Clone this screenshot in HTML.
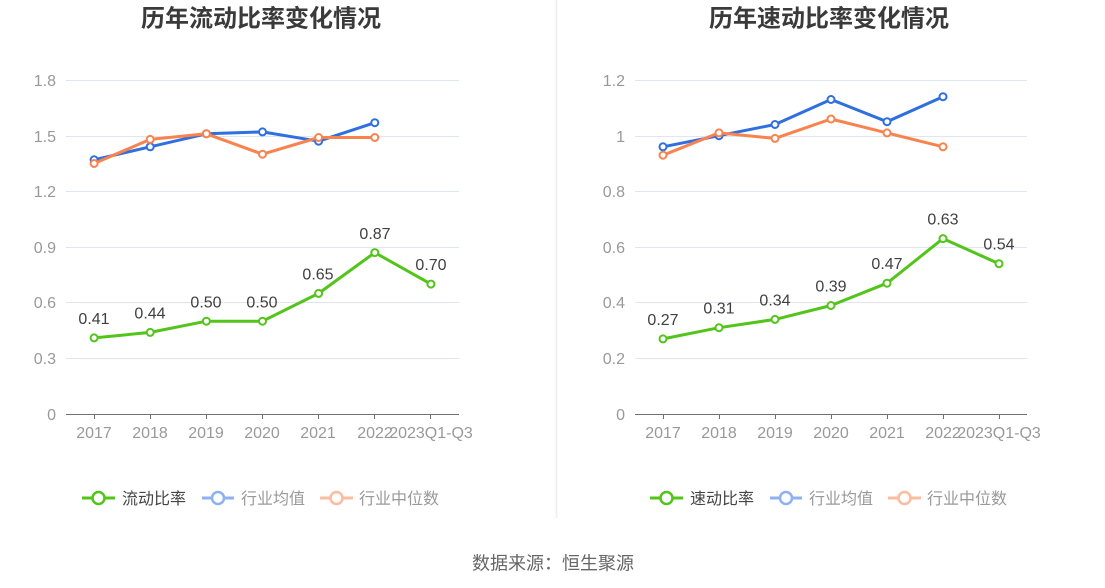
<!DOCTYPE html>
<html>
<head>
<meta charset="utf-8">
<style>
  html,body{margin:0;padding:0;background:#fff;}
  svg{display:block;}
  text{font-family:"Liberation Sans","Noto Sans CJK SC",sans-serif;}
</style>
</head>
<body>
<svg width="1105" height="588" viewBox="0 0 1105 588" xmlns="http://www.w3.org/2000/svg">
  <rect x="0" y="0" width="1105" height="588" fill="#fff"/>
  <!-- divider -->
  <line x1="556.5" y1="0" x2="556.5" y2="518" stroke="#eeeeee" stroke-width="1.5"/>

  <!-- ================= LEFT CHART ================= -->
  <text x="261" y="26.5" text-anchor="middle" font-size="24" font-weight="bold" fill="#3a3a3a">历年流动比率变化情况</text>

  <g stroke="#e0e6f1" stroke-width="1">
    <line x1="66" y1="80.5" x2="459" y2="80.5"/>
    <line x1="66" y1="136.5" x2="459" y2="136.5"/>
    <line x1="66" y1="191.5" x2="459" y2="191.5"/>
    <line x1="66" y1="247.5" x2="459" y2="247.5"/>
    <line x1="66" y1="302.5" x2="459" y2="302.5"/>
    <line x1="66" y1="358.5" x2="459" y2="358.5"/>
  </g>
  <line x1="66" y1="414.5" x2="459" y2="414.5" stroke="#6e7079" stroke-width="1"/>
  <g stroke="#6e7079" stroke-width="1">
    <line x1="94.5" y1="414" x2="94.5" y2="419"/>
    <line x1="150.5" y1="414" x2="150.5" y2="419"/>
    <line x1="206.5" y1="414" x2="206.5" y2="419"/>
    <line x1="262.5" y1="414" x2="262.5" y2="419"/>
    <line x1="318.5" y1="414" x2="318.5" y2="419"/>
    <line x1="374.5" y1="414" x2="374.5" y2="419"/>
    <line x1="430.5" y1="414" x2="430.5" y2="419"/>
  </g>
  <g font-size="16" fill="#999" text-anchor="end">
    <text x="56" y="86">1.8</text>
    <text x="56" y="142">1.5</text>
    <text x="56" y="197">1.2</text>
    <text x="56" y="253">0.9</text>
    <text x="56" y="308">0.6</text>
    <text x="56" y="364">0.3</text>
    <text x="56" y="420">0</text>
  </g>
  <g font-size="16" fill="#999" text-anchor="middle">
    <text x="94" y="438">2017</text>
    <text x="150" y="438">2018</text>
    <text x="206" y="438">2019</text>
    <text x="262" y="438">2020</text>
    <text x="318" y="438">2021</text>
    <text x="375" y="438">2022</text>
    <text x="431" y="438">2023Q1-Q3</text>
  </g>

  <!-- blue -->
  <polyline fill="none" stroke="#2f6fe0" stroke-width="3" stroke-linejoin="round"
    points="94.1,159.8 150.2,146.8 206.4,133.8 262.5,131.9 318.6,141.2 374.8,122.7"/>
  <g fill="#fff" stroke="#2f6fe0" stroke-width="2">
    <circle cx="94.1" cy="159.8" r="3.5"/><circle cx="150.2" cy="146.8" r="3.5"/>
    <circle cx="206.4" cy="133.8" r="3.5"/><circle cx="262.5" cy="131.9" r="3.5"/>
    <circle cx="318.6" cy="141.2" r="3.5"/><circle cx="374.8" cy="122.7" r="3.5"/>
  </g>
  <!-- orange -->
  <polyline fill="none" stroke="#f8834e" stroke-width="3" stroke-linejoin="round"
    points="94.1,163.5 150.2,139.4 206.4,133.8 262.5,154.2 318.6,137.5 374.8,137.5"/>
  <g fill="#fff" stroke="#f8834e" stroke-width="2">
    <circle cx="94.1" cy="163.5" r="3.5"/><circle cx="150.2" cy="139.4" r="3.5"/>
    <circle cx="206.4" cy="133.8" r="3.5"/><circle cx="262.5" cy="154.2" r="3.5"/>
    <circle cx="318.6" cy="137.5" r="3.5"/><circle cx="374.8" cy="137.5" r="3.5"/>
  </g>
  <!-- green -->
  <polyline fill="none" stroke="#52c41a" stroke-width="3" stroke-linejoin="round"
    points="94.1,337.9 150.2,332.4 206.4,321.2 262.5,321.2 318.6,293.4 374.8,252.6 430.9,284.1"/>
  <g fill="#fff" stroke="#52c41a" stroke-width="2">
    <circle cx="94.1" cy="337.9" r="3.5"/><circle cx="150.2" cy="332.4" r="3.5"/>
    <circle cx="206.4" cy="321.2" r="3.5"/><circle cx="262.5" cy="321.2" r="3.5"/>
    <circle cx="318.6" cy="293.4" r="3.5"/><circle cx="374.8" cy="252.6" r="3.5"/>
    <circle cx="430.9" cy="284.1" r="3.5"/>
  </g>
  <g font-size="16" fill="#404040" text-anchor="middle">
    <text x="94" y="324">0.41</text>
    <text x="150" y="318.5">0.44</text>
    <text x="206" y="307.5">0.50</text>
    <text x="262" y="307.5">0.50</text>
    <text x="318" y="279.5">0.65</text>
    <text x="375" y="239">0.87</text>
    <text x="431" y="270">0.70</text>
  </g>

  <!-- legend left -->
  <line x1="82" y1="498" x2="115" y2="498" stroke="#52c41a" stroke-width="3"/>
  <circle cx="98.5" cy="498" r="6" fill="#fff" stroke="#52c41a" stroke-width="2.5"/>
  <text x="122" y="504" font-size="16" fill="#444">流动比率</text>
  <line x1="202" y1="498" x2="234" y2="498" stroke="#8fb1f3" stroke-width="3"/>
  <circle cx="218" cy="498" r="6" fill="#fff" stroke="#8fb1f3" stroke-width="2.5"/>
  <text x="241" y="504" font-size="16" fill="#999">行业均值</text>
  <line x1="320" y1="498" x2="353" y2="498" stroke="#fbbca0" stroke-width="3"/>
  <circle cx="336.5" cy="498" r="6" fill="#fff" stroke="#fbbca0" stroke-width="2.5"/>
  <text x="359" y="504" font-size="16" fill="#999">行业中位数</text>

  <!-- ================= RIGHT CHART ================= -->
  <text x="829" y="26.5" text-anchor="middle" font-size="24" font-weight="bold" fill="#3a3a3a">历年速动比率变化情况</text>

  <g stroke="#e0e6f1" stroke-width="1">
    <line x1="635" y1="80.5" x2="1027" y2="80.5"/>
    <line x1="635" y1="136.5" x2="1027" y2="136.5"/>
    <line x1="635" y1="191.5" x2="1027" y2="191.5"/>
    <line x1="635" y1="247.5" x2="1027" y2="247.5"/>
    <line x1="635" y1="302.5" x2="1027" y2="302.5"/>
    <line x1="635" y1="358.5" x2="1027" y2="358.5"/>
  </g>
  <line x1="635" y1="414.5" x2="1027" y2="414.5" stroke="#6e7079" stroke-width="1"/>
  <g stroke="#6e7079" stroke-width="1">
    <line x1="663.5" y1="414" x2="663.5" y2="419"/>
    <line x1="719.5" y1="414" x2="719.5" y2="419"/>
    <line x1="775.5" y1="414" x2="775.5" y2="419"/>
    <line x1="831.5" y1="414" x2="831.5" y2="419"/>
    <line x1="887.5" y1="414" x2="887.5" y2="419"/>
    <line x1="943.5" y1="414" x2="943.5" y2="419"/>
    <line x1="999.5" y1="414" x2="999.5" y2="419"/>
  </g>
  <g font-size="16" fill="#999" text-anchor="end">
    <text x="625" y="86">1.2</text>
    <text x="625" y="142">1</text>
    <text x="625" y="197">0.8</text>
    <text x="625" y="253">0.6</text>
    <text x="625" y="308">0.4</text>
    <text x="625" y="364">0.2</text>
    <text x="625" y="420">0</text>
  </g>
  <g font-size="16" fill="#999" text-anchor="middle">
    <text x="663" y="438">2017</text>
    <text x="719" y="438">2018</text>
    <text x="775" y="438">2019</text>
    <text x="831" y="438">2020</text>
    <text x="887" y="438">2021</text>
    <text x="943" y="438">2022</text>
    <text x="999" y="438">2023Q1-Q3</text>
  </g>

  <!-- blue -->
  <polyline fill="none" stroke="#2f6fe0" stroke-width="3" stroke-linejoin="round"
    points="663,146.8 719,135.7 775,124.5 831,99.5 887,121.7 943,96.7"/>
  <g fill="#fff" stroke="#2f6fe0" stroke-width="2">
    <circle cx="663" cy="146.8" r="3.5"/><circle cx="719" cy="135.7" r="3.5"/>
    <circle cx="775" cy="124.5" r="3.5"/><circle cx="831" cy="99.5" r="3.5"/>
    <circle cx="887" cy="121.7" r="3.5"/><circle cx="943" cy="96.7" r="3.5"/>
  </g>
  <!-- orange -->
  <polyline fill="none" stroke="#f8834e" stroke-width="3" stroke-linejoin="round"
    points="663,155.2 719,132.9 775,138.4 831,119.0 887,132.9 943,146.8"/>
  <g fill="#fff" stroke="#f8834e" stroke-width="2">
    <circle cx="663" cy="155.2" r="3.5"/><circle cx="719" cy="132.9" r="3.5"/>
    <circle cx="775" cy="138.4" r="3.5"/><circle cx="831" cy="119.0" r="3.5"/>
    <circle cx="887" cy="132.9" r="3.5"/><circle cx="943" cy="146.8" r="3.5"/>
  </g>
  <!-- green -->
  <polyline fill="none" stroke="#52c41a" stroke-width="3" stroke-linejoin="round"
    points="663,338.9 719,327.7 775,319.4 831,305.5 887,283.2 943,238.6 999,263.7"/>
  <g fill="#fff" stroke="#52c41a" stroke-width="2">
    <circle cx="663" cy="338.9" r="3.5"/><circle cx="719" cy="327.7" r="3.5"/>
    <circle cx="775" cy="319.4" r="3.5"/><circle cx="831" cy="305.5" r="3.5"/>
    <circle cx="887" cy="283.2" r="3.5"/><circle cx="943" cy="238.6" r="3.5"/>
    <circle cx="999" cy="263.7" r="3.5"/>
  </g>
  <g font-size="16" fill="#404040" text-anchor="middle">
    <text x="663" y="325">0.27</text>
    <text x="719" y="313.5">0.31</text>
    <text x="775" y="305.5">0.34</text>
    <text x="831" y="291.5">0.39</text>
    <text x="887" y="269">0.47</text>
    <text x="943" y="224.5">0.63</text>
    <text x="999" y="249.5">0.54</text>
  </g>

  <!-- legend right -->
  <line x1="650" y1="498" x2="683" y2="498" stroke="#52c41a" stroke-width="3"/>
  <circle cx="666.5" cy="498" r="6" fill="#fff" stroke="#52c41a" stroke-width="2.5"/>
  <text x="690" y="504" font-size="16" fill="#444">速动比率</text>
  <line x1="770" y1="498" x2="802" y2="498" stroke="#8fb1f3" stroke-width="3"/>
  <circle cx="786" cy="498" r="6" fill="#fff" stroke="#8fb1f3" stroke-width="2.5"/>
  <text x="809" y="504" font-size="16" fill="#999">行业均值</text>
  <line x1="888" y1="498" x2="921" y2="498" stroke="#fbbca0" stroke-width="3"/>
  <circle cx="904.5" cy="498" r="6" fill="#fff" stroke="#fbbca0" stroke-width="2.5"/>
  <text x="927" y="504" font-size="16" fill="#999">行业中位数</text>

  <!-- source -->
  <text x="553" y="569.5" text-anchor="middle" font-size="18" fill="#666">数据来源：恒生聚源</text>
</svg>
</body>
</html>
